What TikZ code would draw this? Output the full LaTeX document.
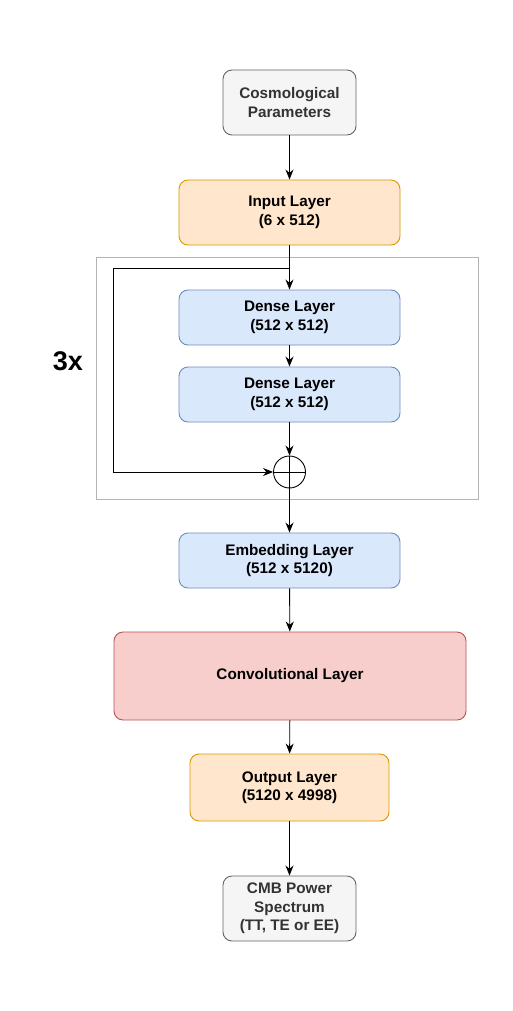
\documentclass[tikz,border=0pt]{standalone}
\usepackage{fontspec}
\setmainfont{Liberation Sans}
\usetikzlibrary{arrows.meta}
\definecolor{grayfill}{HTML}{F5F5F5}
\definecolor{graystroke}{HTML}{666666}
\definecolor{graytext}{HTML}{333333}
\definecolor{orfill}{HTML}{FFE6CC}
\definecolor{orstroke}{HTML}{D79B00}
\definecolor{blfill}{HTML}{DAE8FC}
\definecolor{blstroke}{HTML}{6C8EBF}
\definecolor{rdfill}{HTML}{F8CECC}
\definecolor{rdstroke}{HTML}{B85450}
\definecolor{boxstroke}{HTML}{B3B3B3}
\begin{document}
\begin{tikzpicture}[x=1pt,y=-1pt,
  base/.style={rounded corners=9pt, line width=0.9pt, align=center, font=\bfseries\fontsize{15.3}{18.5}\selectfont, inner sep=0pt},
  graybox/.style={base, fill=grayfill, draw=graystroke, text=graytext},
  orbox/.style={base, fill=orfill, draw=orstroke},
  blbox/.style={base, fill=blfill, draw=blstroke},
  rdbox/.style={base, fill=rdfill, draw=rdstroke},
  arr/.style={-{Stealth[length=10pt,width=8pt]}, line width=0.9pt},
  ln/.style={line width=0.9pt}]
\useasboundingbox (0,0) rectangle (513,1011);
\fill[white] (0,0) rectangle (513,1011);
% container
\node[draw=boxstroke, line width=0.9pt, minimum width=382pt, minimum height=242pt, inner sep=0pt] (cont) at (287,378) {};
\node[font=\bfseries\fontsize{27}{30}\selectfont] (rep) at (68,361) {3x};
\node[graybox, minimum width=133pt, minimum height=65pt] (cp) at (289.5,102.5) {Cosmological\\Parameters};
\node[orbox, minimum width=221pt, minimum height=65pt] (in) at (289.5,212.5) {Input Layer\\(6 x 512)};
\node[blbox, minimum width=221pt, minimum height=55pt] (d1) at (289.5,317.5) {Dense Layer\\(512 x 512)};
\node[blbox, minimum width=221pt, minimum height=55pt] (d2) at (289.5,394.5) {Dense Layer\\(512 x 512)};
\node[draw, circle, line width=0.9pt, minimum size=32pt, inner sep=0pt] (plus) at (289.5,472) {};
\draw[ln] (plus.north) -- (plus.south) (plus.west) -- (plus.east);
\node[blbox, minimum width=221pt, minimum height=55pt] (emb) at (289.5,560.5) {Embedding Layer\\(512 x 5120)};
\node[rdbox, minimum width=352pt, minimum height=88pt] (conv) at (290,676) {Convolutional Layer};
\node[orbox, minimum width=199pt, minimum height=67pt] (out) at (289.5,787.5) {Output Layer\\(5120 x 4998)};
\node[graybox, minimum width=133pt, minimum height=65pt, font=\bfseries\fontsize{15.3}{18.5}\selectfont] (cmb) at (289.5,908.5) {CMB Power\\Spectrum\\(TT, TE or EE)};
\coordinate (split) at (289.5,268);
\coordinate (lt) at (113,268);
\coordinate (lb) at (113,472);
\draw[arr] (cp) -- (in);
\draw[arr] (in) -- (d1);
\draw[arr] (d1) -- (d2);
\draw[arr] (d2) -- (plus);
\draw[arr] (split) -- (lt) -- (lb) -- (plus.west);
\draw[arr] (plus) -- (emb);
\draw[arr] (emb) -- (conv);
\draw[arr] (conv) -- (out);
\draw[arr] (out) -- (cmb);
\end{tikzpicture}
\end{document}
